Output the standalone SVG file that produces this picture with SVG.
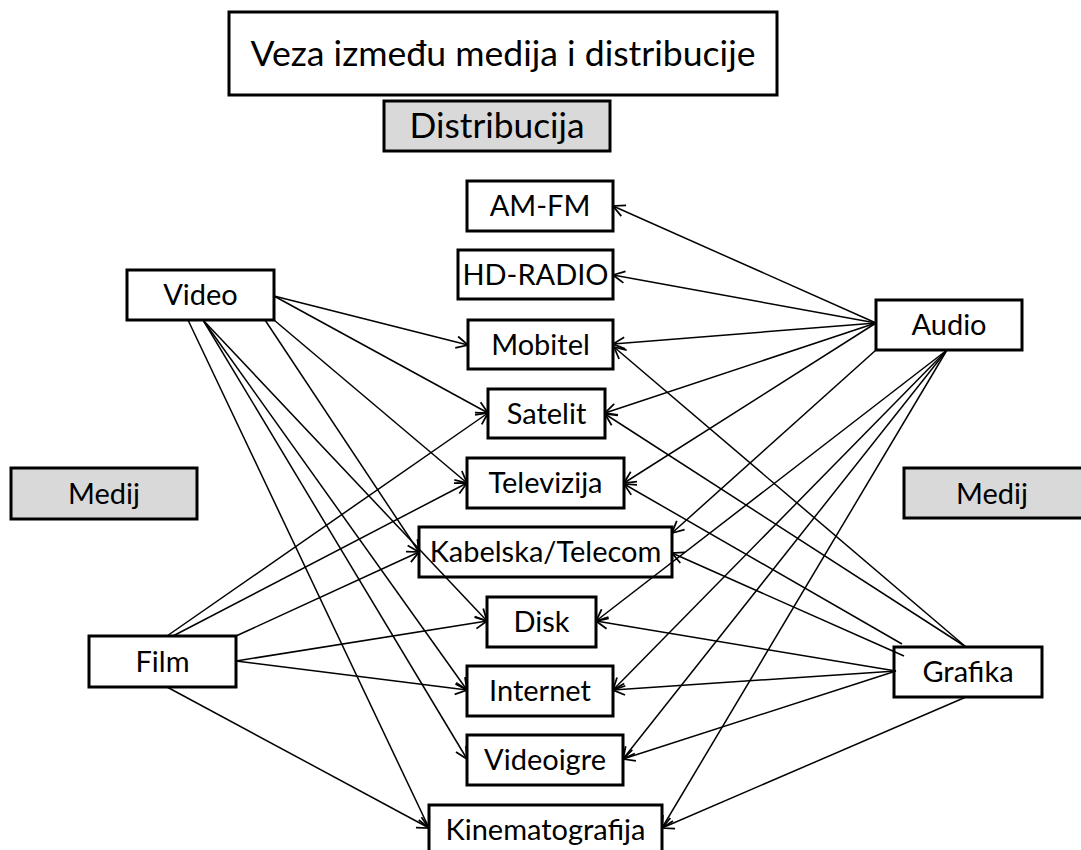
<svg xmlns="http://www.w3.org/2000/svg" width="1081" height="850" viewBox="0 0 1081 850">
<defs>
<style>
.box{fill:#ffffff;stroke:#000000;stroke-width:3}
.gray{fill:#d9d9d9;stroke:#000000;stroke-width:3}
.lbl{font-family:Lato,"Open Sans","Liberation Sans",sans-serif;font-size:29px;fill:#000000;text-anchor:middle}
.big{font-size:35px}
.ln{stroke:#000000;stroke-width:1.5;fill:none;marker-end:url(#arr)}
</style>
<marker id="arr" markerUnits="userSpaceOnUse" markerWidth="14" markerHeight="14" viewBox="0 0 12 12" refX="11" refY="6" orient="auto">
<path d="M1,1 L11,6 L1,11" fill="none" stroke="#000000" stroke-width="1.5"/>
</marker>
</defs>
<rect width="1081" height="850" fill="#ffffff"/>

<g id="title"><rect class="box" x="229" y="12" width="548" height="83"/><text class="lbl big" x="503" y="66" textLength="505" lengthAdjust="spacingAndGlyphs">Veza između medija i distribucije</text></g>
<g id="distribucija"><rect class="gray" x="384" y="101" width="226" height="50"/><text class="lbl big" x="497" y="138" textLength="175" lengthAdjust="spacingAndGlyphs">Distribucija</text></g>
<g id="medij-left"><rect class="gray" x="11" y="468" width="186" height="51"/><text class="lbl" x="104" y="504">Medij</text></g>
<g id="medij-right"><rect class="gray" x="904" y="468" width="190" height="50"/><text class="lbl" x="992" y="504">Medij</text></g>

<g id="amfm"><rect class="box" x="467" y="181" width="146" height="50"/><text class="lbl" x="540" y="216">AM-FM</text></g>
<g id="hdradio"><rect class="box" x="458" y="250" width="155" height="49"/><text class="lbl" x="535.5" y="285">HD-RADIO</text></g>
<g id="mobitel"><rect class="box" x="468" y="320" width="145" height="49"/><text class="lbl" x="540.5" y="355">Mobitel</text></g>
<g id="satelit"><rect class="box" x="488" y="389" width="117" height="49"/><text class="lbl" x="546.5" y="424">Satelit</text></g>
<g id="televizija"><rect class="box" x="467" y="458" width="157" height="50"/><text class="lbl" x="545.5" y="493">Televizija</text></g>
<g id="kabelska"><rect class="box" x="419" y="527" width="253" height="50"/><text class="lbl" x="545.5" y="562">Kabelska/Telecom</text></g>
<g id="disk"><rect class="box" x="487" y="597" width="109" height="50"/><text class="lbl" x="541.5" y="632">Disk</text></g>
<g id="internet"><rect class="box" x="467" y="666" width="146" height="50"/><text class="lbl" x="540" y="701">Internet</text></g>
<g id="videoigre"><rect class="box" x="467" y="735" width="156" height="50"/><text class="lbl" x="545" y="770">Videoigre</text></g>
<g id="kinematografija"><rect class="box" x="429" y="805" width="233" height="55"/><text class="lbl" x="545.5" y="840">Kinematografija</text></g>

<g id="video"><rect class="box" x="127" y="270" width="147" height="50"/><text class="lbl" x="200.5" y="305">Video</text></g>
<g id="audio"><rect class="box" x="876" y="300" width="146" height="50"/><text class="lbl" x="949" y="335">Audio</text></g>
<g id="film"><rect class="box" x="89" y="636" width="147" height="51"/><text class="lbl" x="162.5" y="672">Film</text></g>
<g id="grafika"><rect class="box" x="894" y="647" width="148" height="50"/><text class="lbl" x="968" y="682">Grafika</text></g>

<g id="connectors">
<line class="ln" x1="274" y1="296" x2="468" y2="345"/>
<line class="ln" x1="274" y1="296" x2="488" y2="413"/>
<line class="ln" x1="274" y1="320" x2="467" y2="483"/>
<line class="ln" x1="265" y1="320" x2="419" y2="552"/>
<line class="ln" x1="203" y1="320" x2="487" y2="621"/>
<line class="ln" x1="203" y1="320" x2="467" y2="690"/>
<line class="ln" x1="203" y1="320" x2="467" y2="759"/>
<line class="ln" x1="188" y1="320" x2="429" y2="828"/>

<line class="ln" x1="167" y1="636" x2="488" y2="413"/>
<line class="ln" x1="173" y1="636" x2="467" y2="483"/>
<line class="ln" x1="236" y1="636" x2="419" y2="552"/>
<line class="ln" x1="236" y1="661" x2="487" y2="621"/>
<line class="ln" x1="236" y1="661" x2="467" y2="690"/>
<line class="ln" x1="167" y1="687" x2="429" y2="828"/>

<line class="ln" x1="876" y1="323" x2="613" y2="206"/>
<line class="ln" x1="876" y1="323" x2="613" y2="275"/>
<line class="ln" x1="876" y1="323" x2="613" y2="344"/>
<line class="ln" x1="876" y1="323" x2="605" y2="413"/>
<line class="ln" x1="876" y1="323" x2="624" y2="483"/>
<line class="ln" x1="876" y1="350" x2="672" y2="533"/>
<line class="ln" x1="947" y1="350" x2="596" y2="621"/>
<line class="ln" x1="947" y1="350" x2="613" y2="690"/>
<line class="ln" x1="947" y1="350" x2="623" y2="759"/>
<line class="ln" x1="947" y1="350" x2="662" y2="828"/>

<line class="ln" x1="966" y1="647" x2="614" y2="347"/>
<line class="ln" x1="966" y1="647" x2="605" y2="414"/>
<line class="ln" x1="902" y1="644" x2="624" y2="484"/>
<line class="ln" x1="904" y1="656" x2="672" y2="553"/>
<line class="ln" x1="896" y1="671" x2="596" y2="621"/>
<line class="ln" x1="896" y1="671" x2="613" y2="690"/>
<line class="ln" x1="896" y1="671" x2="623" y2="759"/>
<line class="ln" x1="966" y1="697" x2="662" y2="828"/>
</g>
</svg>
